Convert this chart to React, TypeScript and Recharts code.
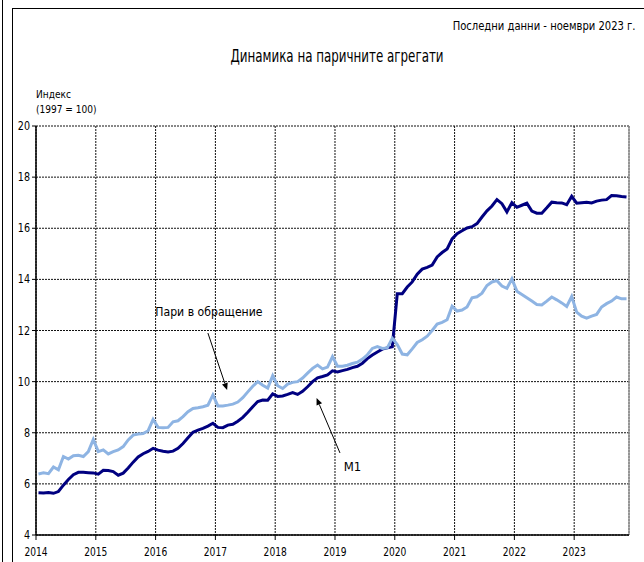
import {
  LineChart,
  Line,
  XAxis,
  YAxis,
  CartesianGrid,
  ReferenceLine,
  ReferenceDot
} from 'recharts';

const FONT = '"DejaVu Sans", sans-serif';

const years = ['2014', '2015', '2016', '2017', '2018', '2019', '2020', '2021', '2022', '2023'];
const yTicks = [4, 6, 8, 10, 12, 14, 16, 18, 20];

// M1, monthly Jan 2014 - Nov 2023 (index, 1997 = 100)
const m1 = [
  5.65, 5.64, 5.66, 5.63, 5.7, 5.95, 6.17, 6.36, 6.45, 6.45, 6.44, 6.43,
  6.38, 6.53, 6.52, 6.48, 6.34, 6.42, 6.62, 6.85, 7.05, 7.18, 7.27, 7.39,
  7.32, 7.28, 7.25, 7.28, 7.39, 7.58, 7.8, 8.02, 8.1, 8.17, 8.26, 8.37,
  8.21, 8.2, 8.3, 8.33, 8.45, 8.6, 8.8, 9.02, 9.22, 9.28, 9.27, 9.52,
  9.42, 9.44, 9.5, 9.57, 9.5, 9.62, 9.8, 10.0, 10.15, 10.2, 10.26, 10.42,
  10.38, 10.43, 10.48, 10.55, 10.6, 10.72, 10.9, 11.04, 11.16, 11.27, 11.32, 11.36,
  13.44, 13.44, 13.7, 13.9, 14.2, 14.4, 14.47, 14.56, 14.88, 15.05, 15.19, 15.58,
  15.79, 15.9, 16.01, 16.06, 16.18, 16.44, 16.68, 16.87, 17.12, 16.96, 16.64, 17.0,
  16.82, 16.9, 16.98, 16.67, 16.59, 16.59, 16.8, 17.02, 17.0, 16.99, 16.92, 17.25,
  16.98, 17.0, 17.02, 16.99, 17.06, 17.1, 17.12, 17.28, 17.27, 17.24, 17.22
];

// Пари в обращение
const cash = [
  6.39, 6.43, 6.4, 6.66, 6.55, 7.07, 6.97, 7.1, 7.12, 7.07, 7.26, 7.74,
  7.26, 7.33, 7.17, 7.26, 7.33, 7.46, 7.72, 7.91, 7.95, 7.97, 8.08, 8.52,
  8.21, 8.2, 8.21, 8.43, 8.47, 8.63, 8.82, 8.95, 8.98, 9.02, 9.08, 9.48,
  9.05, 9.05, 9.08, 9.12, 9.2, 9.37, 9.6, 9.82, 10.0, 9.86, 9.75, 10.23,
  9.84, 9.73, 9.9, 9.97, 10.0, 10.14, 10.33, 10.52, 10.65, 10.5, 10.57, 10.98,
  10.6, 10.6, 10.64, 10.71, 10.76, 10.88, 11.05, 11.3, 11.37, 11.3, 11.32, 11.7,
  11.45, 11.08, 11.05, 11.28, 11.53, 11.64, 11.78, 12.0, 12.25, 12.32, 12.42, 12.95,
  12.76, 12.8, 12.92, 13.28, 13.32, 13.46, 13.76, 13.9, 13.95, 13.74, 13.65, 14.02,
  13.54, 13.41, 13.28, 13.15, 13.02, 13.0, 13.15, 13.31, 13.2, 13.08, 12.94, 13.33,
  12.72, 12.56, 12.48, 12.56, 12.63, 12.92, 13.05, 13.15, 13.31, 13.24, 13.24
];

// points sit in the middle of each month
const data = m1.map((v, i) => ({ t: i + 0.5, m1: v, cash: cash[i] }));
const xTicks = years.map((_, i) => i * 12);

// no condensed face is installed, so squeeze text horizontally
const Narrow = ({ x, y, sx = 0.8, anchor = 'middle', size = 12, children }: any) => (
  <text
    transform={`translate(${x} ${y}) scale(${sx} 1)`}
    textAnchor={anchor}
    fontSize={size}
    fontFamily={FONT}
    fill="#000"
  >
    {children}
  </text>
);

const XTick = ({ x, y, payload }: any) => (
  <Narrow x={x} y={y + 12} sx={0.76}>
    {years[payload.value / 12]}
  </Narrow>
);

const YTick = ({ x, y, payload }: any) => (
  <Narrow x={x} y={y + 4} sx={0.8} anchor="end">
    {payload.value}
  </Narrow>
);

const Arrow = (props: any) => {
  const { x1, y1, x2, y2 } = props;
  const a = Math.atan2(y2 - y1, x2 - x1);
  const len = 7;
  const w = 3;
  const bx = x2 - len * Math.cos(a);
  const by = y2 - len * Math.sin(a);
  const p1 = `${bx + w * Math.sin(a)},${by - w * Math.cos(a)}`;
  const p2 = `${bx - w * Math.sin(a)},${by + w * Math.cos(a)}`;
  return (
    <g>
      <line x1={x1} y1={y1} x2={bx} y2={by} stroke="#000" strokeWidth={1} />
      <polygon points={`${x2},${y2} ${p1} ${p2}`} fill="#000" />
    </g>
  );
};

const dotLabel = (text: string, sx: number) => (p: any) => (
  <Narrow x={p.viewBox.x} y={p.viewBox.y + 5} sx={sx} size={13}>
    {text}
  </Narrow>
);

const textStyle = {
  position: 'absolute' as const,
  color: '#000',
  whiteSpace: 'nowrap' as const,
  fontFamily: FONT
};

export default function App() {
  return (
    <div style={{ position: 'relative', width: 644, height: 562, background: '#fff', overflow: 'hidden' }}>
      <style>{'body { margin: 0; }'}</style>
      <div style={{ position: 'absolute', left: 2, top: 0, width: 1, height: 562, background: '#000' }} />
      <div style={{ position: 'absolute', left: 12, top: 8, width: 1, height: 554, background: '#000' }} />
      <div style={{ position: 'absolute', left: 12, top: 8, width: 632, height: 1, background: '#000' }} />
      <div style={{ ...textStyle, right: 8, top: 18, fontSize: 13, transform: 'scaleX(0.77)', transformOrigin: 'right' }}>
        Последни данни - ноември 2023 г.
      </div>
      <div style={{ ...textStyle, left: 337, top: 45, fontSize: 18, transform: 'translateX(-50%) scaleX(0.66)' }}>
        Динамика на паричните агрегати
      </div>
      <div
        style={{
          ...textStyle,
          left: 36,
          top: 87,
          fontSize: 11,
          lineHeight: '15px',
          transform: 'scaleX(0.82)',
          transformOrigin: 'left'
        }}
      >
        Индекс
        <br />
        (1997 = 100)
      </div>
      <LineChart width={644} height={562} data={data} margin={{ top: 126, right: 15, bottom: 0, left: 6 }}>
        <CartesianGrid stroke="#111" strokeDasharray="2 1" />
        <XAxis
          dataKey="t"
          type="number"
          domain={[0, 119]}
          ticks={xTicks}
          interval={0}
          height={27}
          axisLine={{ stroke: '#000', strokeWidth: 1.5 }}
          tickLine={{ stroke: '#000' }}
          tickSize={5}
          tickMargin={4}
          tick={<XTick />}
        />
        <YAxis
          domain={[4, 20]}
          ticks={yTicks}
          interval={0}
          width={30}
          axisLine={{ stroke: '#000', strokeWidth: 1.5 }}
          tickLine={{ stroke: '#000' }}
          tickSize={4}
          tickMargin={2}
          tick={<YTick />}
        />
        <ReferenceLine x={119} stroke="#999" strokeWidth={1.5} />
        <Line type="linear" dataKey="m1" stroke="#000080" strokeWidth={3} dot={false} isAnimationActive={false} />
        <Line type="linear" dataKey="cash" stroke="#8EB4E3" strokeWidth={3} dot={false} isAnimationActive={false} />
        <ReferenceLine segment={[{ x: 34.5, y: 11.9 }, { x: 38.35, y: 9.67 }]} shape={Arrow} />
        <ReferenceLine segment={[{ x: 61.0, y: 7.21 }, { x: 56.3, y: 9.36 }]} shape={Arrow} />
        <ReferenceDot x={34.7} y={12.76} r={0} fill="none" stroke="none" label={dotLabel('Пари в обращение', 0.84)} />
        <ReferenceDot x={63.5} y={6.7} r={0} fill="none" stroke="none" label={dotLabel('M1', 0.9)} />
      </LineChart>
    </div>
  );
}
